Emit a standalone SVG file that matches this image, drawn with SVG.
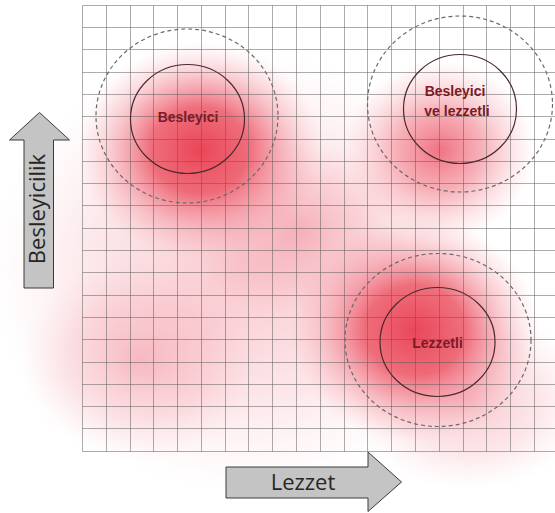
<svg xmlns="http://www.w3.org/2000/svg" width="555" height="513" viewBox="0 0 555 513">
  <style>
    .grid { fill: none; stroke: #5a5a5a; stroke-opacity: 0.5; stroke-width: 1; }
    .ring { fill: none; stroke: #4a2a2e; stroke-width: 1.2; }
    .halo { fill: none; stroke: #6a6a6a; stroke-width: 1.2; stroke-dasharray: 4 3; }
    .label { font-family: "Liberation Sans", Arial, sans-serif; font-weight: bold; font-size: 14px; fill: #7d1a24; text-anchor: middle; }
    .arrow { fill: #c4c4c4; stroke: #3a3a3a; stroke-width: 1; }
    .axis { font-family: "Open Sans", "Liberation Sans", sans-serif; font-size: 22px; fill: #262626; text-anchor: middle; }
  </style>
  <defs>
    <radialGradient id="hot">
      <stop offset="0" stop-color="#e8384b" stop-opacity="0.92"/>
      <stop offset="0.4" stop-color="#ea4455" stop-opacity="0.75"/>
      <stop offset="0.72" stop-color="#f07080" stop-opacity="0.32"/>
      <stop offset="1" stop-color="#f8a0aa" stop-opacity="0"/>
    </radialGradient>
    <radialGradient id="warm">
      <stop offset="0" stop-color="#ec5062" stop-opacity="0.8"/>
      <stop offset="0.45" stop-color="#ef6575" stop-opacity="0.5"/>
      <stop offset="1" stop-color="#f8a0aa" stop-opacity="0"/>
    </radialGradient>
    <radialGradient id="haze">
      <stop offset="0" stop-color="#f07888" stop-opacity="0.42"/>
      <stop offset="0.6" stop-color="#f4a0ab" stop-opacity="0.25"/>
      <stop offset="1" stop-color="#f8c0c6" stop-opacity="0"/>
    </radialGradient>
  </defs>

  <rect width="555" height="513" fill="#ffffff"/>

  <!-- soft red density fields -->
  <g id="heat">
    <ellipse cx="240" cy="270" rx="250" ry="220" fill="url(#haze)"/>
    <ellipse cx="140" cy="360" rx="120" ry="100" fill="url(#haze)"/>
    <ellipse cx="470" cy="400" rx="120" ry="90" fill="url(#haze)"/>
    <ellipse cx="300" cy="230" rx="110" ry="90" fill="url(#haze)"/>
    <ellipse cx="200" cy="150" rx="122" ry="108" fill="url(#hot)"/>
    <ellipse cx="440" cy="150" rx="95" ry="90" fill="url(#warm)"/>
    <ellipse cx="415" cy="330" rx="125" ry="112" fill="url(#hot)"/>
  </g>

  <!-- grid -->
  <path class="grid" d="M82.5 5.5V451.5M106.5 5.5V451.5M130.5 5.5V451.5M153.5 5.5V451.5M177.5 5.5V451.5M201.5 5.5V451.5M225.5 5.5V451.5M248.5 5.5V451.5M272.5 5.5V451.5M296.5 5.5V451.5M320.5 5.5V451.5M344.5 5.5V451.5M367.5 5.5V451.5M391.5 5.5V451.5M415.5 5.5V451.5M439.5 5.5V451.5M463.5 5.5V451.5M486.5 5.5V451.5M510.5 5.5V451.5M534.5 5.5V451.5
  M82.5 5.5H555M82.5 27.5H555M82.5 49.5H555M82.5 72.5H555M82.5 94.5H555M82.5 116.5H555M82.5 139.5H555M82.5 161.5H555M82.5 183.5H555M82.5 205.5H555M82.5 228.5H555M82.5 250.5H555M82.5 272.5H555M82.5 295.5H555M82.5 317.5H555M82.5 339.5H555M82.5 362.5H555M82.5 384.5H555M82.5 406.5H555M82.5 428.5H555M82.5 451.5H555"/>

  <g id="besleyici">
    <ellipse class="halo" cx="187" cy="116" rx="91" ry="87"/>
    <ellipse class="ring" cx="187.5" cy="119" rx="57" ry="54.5"/>
    <text class="label" x="188" y="122">Besleyici</text>
  </g>

  <g id="besleyici-ve-lezzetli">
    <ellipse class="halo" cx="460" cy="104" rx="92.5" ry="88"/>
    <ellipse class="ring" cx="460" cy="109" rx="56.5" ry="54.5"/>
    <text class="label" x="455" y="96">Besleyici</text>
    <text class="label" x="457" y="116">ve lezzetli</text>
  </g>

  <g id="lezzetli">
    <ellipse class="halo" cx="438" cy="340" rx="93" ry="86.5"/>
    <ellipse class="ring" cx="437.5" cy="342" rx="57.5" ry="54.5"/>
    <text class="label" x="437.5" y="348">Lezzetli</text>
  </g>

  <g id="axis-besleyicilik">
    <polygon class="arrow" points="24,288 24,140 9.5,140 39.5,112.5 69.5,140 53.5,140 53.5,288"/>
    <text class="axis" transform="translate(45 209) rotate(-90)" x="0" y="0">Besleyicilik</text>
  </g>

  <g id="axis-lezzet">
    <polygon class="arrow" points="226,467 368,467 368,452 401.5,482 368,511.5 368,498 226,498"/>
    <text class="axis" x="303" y="490">Lezzet</text>
  </g>
</svg>
